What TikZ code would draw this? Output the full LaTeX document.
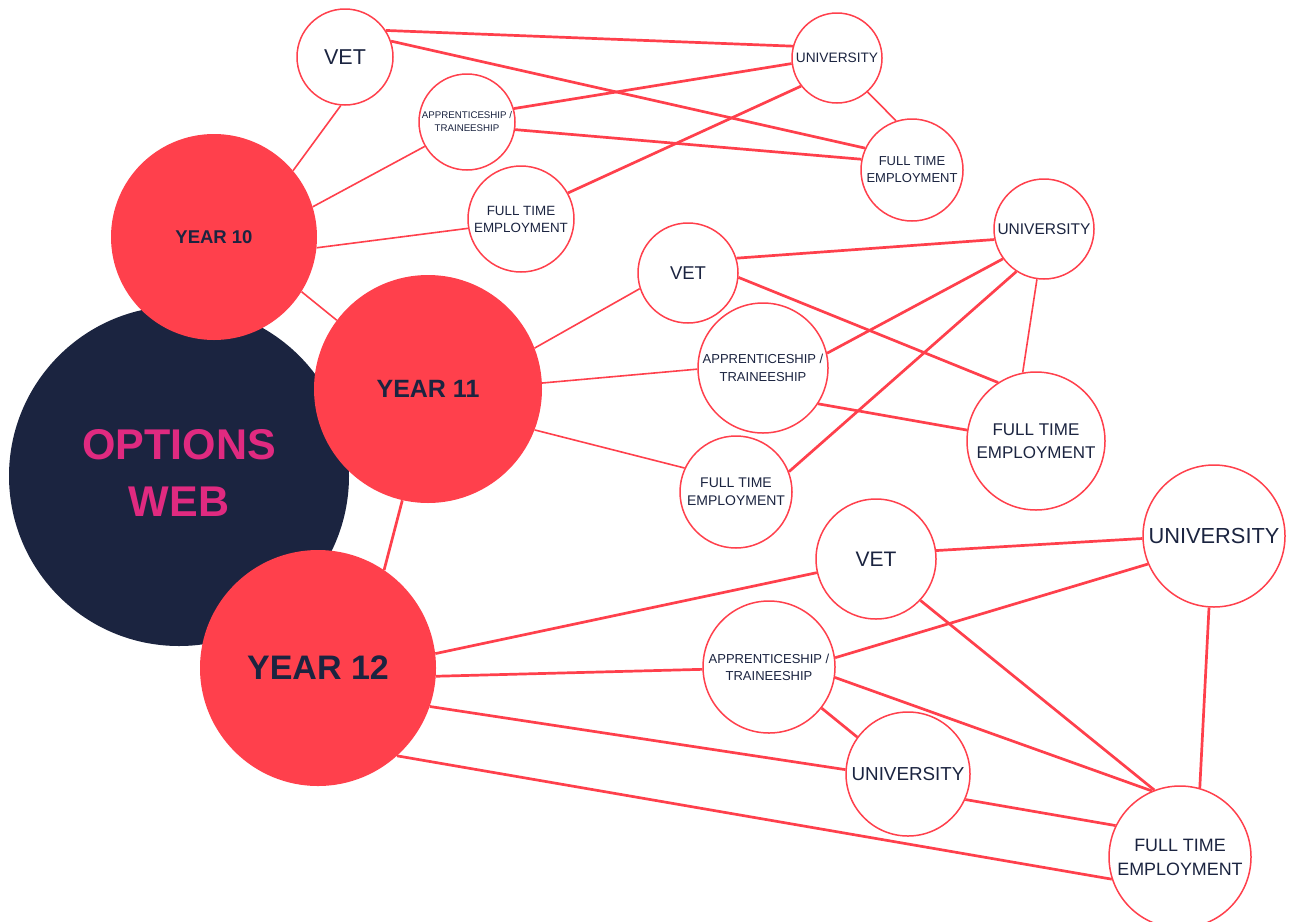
\documentclass[tikz,border=0pt]{standalone}
\usepackage{fontspec}
\setmainfont{Liberation Sans}
\usetikzlibrary{backgrounds}
\definecolor{webred}{HTML}{FF404C}
\definecolor{navy}{HTML}{1B2440}
\definecolor{webpink}{HTML}{E02A80}
\tikzset{
  fs/.style 2 args={font=\fontsize{#1}{#2}\selectfont},
  opt/.style={circle, draw=webred, line width=1.5pt, fill=white, inner sep=0pt, align=center, text=navy},
  yearnode/.style={circle, fill=webred, inner sep=0pt, text=navy},
  hubnode/.style={circle, fill=navy, inner sep=0pt, text=webpink, align=center},
  thinlink/.style={draw=webred, line width=1.6pt},
  thicklink/.style={draw=webred, line width=2.7pt},
}
\begin{document}
\begin{tikzpicture}[x=1pt, y=-1pt]
\useasboundingbox (0,0) rectangle (1289,921);
% hub and years
\node[hubnode, minimum size=340pt, font=\bfseries\fontsize{43}{61}\selectfont] (hub) at (179,476) {\raisebox{5pt}{\begin{tabular}{@{}c@{}}OPTIONS\\[-4pt]WEB\end{tabular}}};
\node[yearnode, minimum size=206pt, font=\bfseries\fontsize{18.5}{22}\selectfont] (y10) at (214,237) {\raisebox{-1pt}{YEAR 10}};
\node[yearnode, minimum size=228pt, font=\bfseries\fontsize{25}{30}\selectfont] (y11) at (428,389) {\raisebox{-4pt}{YEAR 11}};
\node[yearnode, minimum size=236pt, font=\bfseries\fontsize{34}{40}\selectfont] (y12) at (318,668) {YEAR 12};
% year 10 options
\node[opt, minimum size=96pt, fs={21.5}{26}] (vetA) at (345,57) {VET};
\node[opt, minimum size=96pt, fs={9.7}{13}] (appA) at (467,122) {APPRENTICESHIP /\\TRAINEESHIP};
\node[opt, minimum size=106pt, fs={13.4}{17}] (fteA) at (521,219) {FULL TIME\\EMPLOYMENT};
\node[opt, minimum size=90pt, fs={13.7}{17}] (uniA) at (837,58) {UNIVERSITY};
\node[opt, minimum size=102pt, fs={13}{17}] (fteAb) at (912,170) {FULL TIME\\EMPLOYMENT};
% year 11 options
\node[opt, minimum size=100pt, fs={18.5}{22}] (vetB) at (688,273) {VET};
\node[opt, minimum size=130pt, fs={13}{18}] (appB) at (763,368) {APPRENTICESHIP /\\TRAINEESHIP};
\node[opt, minimum size=112pt, fs={14}{18}] (fteB) at (736,492) {FULL TIME\\EMPLOYMENT};
\node[opt, minimum size=100pt, fs={15.5}{19}] (uniB) at (1044,229) {UNIVERSITY};
\node[opt, minimum size=138pt, fs={17}{23}] (fteBb) at (1036,441) {FULL TIME\\EMPLOYMENT};
% year 12 options
\node[opt, minimum size=120pt, fs={21}{25}] (vetC) at (876,559) {VET};
\node[opt, minimum size=132pt, fs={13}{17}] (appC) at (769,667) {APPRENTICESHIP /\\TRAINEESHIP};
\node[opt, minimum size=124pt, fs={18.8}{23}] (uniC) at (908,774) {UNIVERSITY};
\node[opt, minimum size=142pt, fs={21.8}{26}] (uniCb) at (1214,536) {UNIVERSITY};
\node[opt, minimum size=142pt, fs={17.9}{24}] (fteC) at (1180,857) {FULL TIME\\EMPLOYMENT};
\begin{pgfonlayer}{background}
\fill[white] (0,0) rectangle (1289,921);
% year 10
\draw[thinlink] (y10.40.3) -- (vetA.265);
\draw[thinlink] (y10.17.9) -- (appA.210);
\draw[thinlink] (y10.-6.6) -- (fteA.190.7);
\draw[thinlink] (y10.-32) -- (y11.143.5);
\draw[thicklink] (vetA.33.4) -- (uniA.165);
\draw[thicklink] (vetA.19.2) -- (fteAb.155.3);
\draw[thicklink] (appA.16.3) -- (uniA.187.6);
\draw[thicklink] (appA.-9.5) -- (fteAb.168);
\draw[thicklink] (fteA.29.7) -- (uniA.218.5);
\draw[thinlink] (uniA.-48.5) -- (fteAb.108.8);
% year 11
\draw[thinlink] (y11.21.6) -- (vetB.198.8);
\draw[thinlink] (y11.3.5) -- (appB.181.8);
\draw[thinlink] (y11.-21.6) -- (fteB.155.3);
\draw[thicklink] (y11.257.7) -- (y12.56.2);
\draw[thicklink] (vetB.17.7) -- (uniB.192.4);
\draw[thicklink] (vetB.-5.5) -- (fteBb.123.5);
\draw[thicklink] (appB.13) -- (uniB.216);
\draw[thicklink] (appB.-33.9) -- (fteBb.171);
\draw[thicklink] (fteB.21.4) -- (uniB.237.9);
\draw[thinlink] (uniB.262.6) -- (fteBb.101.6);
% year 12
\draw[thicklink] (y12.7.7) -- (vetC.193.1);
\draw[thicklink] (y12.-4.8) -- (appC.182.6);
\draw[thicklink] (y12.-19.7) -- (uniC.176.2);
\draw[thicklink] (y12.-48.8) -- (fteC.198.7);
\draw[thicklink] (vetC.8.5) -- (uniCb.182.4);
\draw[thicklink] (vetC.-43) -- (fteC.111);
\draw[thicklink] (appC.8.7) -- (uniCb.203.8);
\draw[thicklink] (appC.-9.2) -- (fteC.113.6);
\draw[thicklink] (appC.-38.8) -- (uniC.144.2);
\draw[thicklink] (uniC.-24.3) -- (fteC.154.5);
\draw[thicklink] (uniCb.266.9) -- (fteC.74.2);
\end{pgfonlayer}
\end{tikzpicture}
\end{document}
